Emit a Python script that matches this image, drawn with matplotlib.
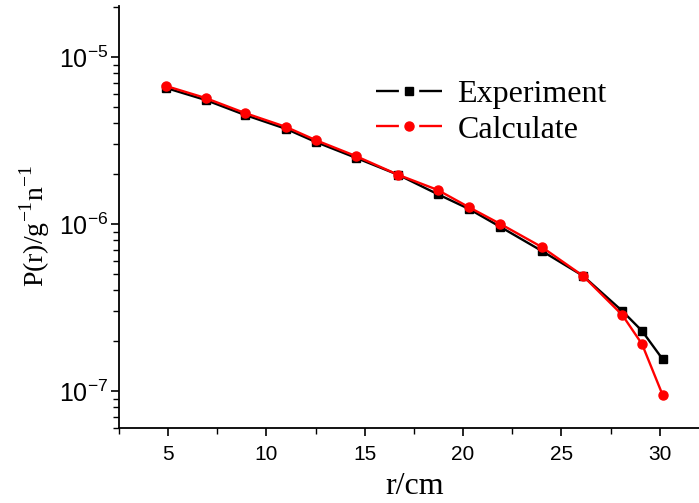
import matplotlib
matplotlib.use('Agg')
import matplotlib.pyplot as plt
from matplotlib.lines import Line2D
from matplotlib.ticker import MultipleLocator

# data
r_cm = [4.9, 6.9, 8.9, 11.0, 12.5, 14.55, 16.7, 18.7, 20.3, 21.9, 24.0, 26.1, 28.1, 29.1, 30.15]
experiment = [6.52e-6, 5.53e-6, 4.50e-6, 3.71e-6, 3.10e-6, 2.49e-6, 1.97e-6, 1.51e-6,
              1.23e-6, 9.6e-7, 6.9e-7, 4.89e-7, 3.01e-7, 2.29e-7, 1.55e-7]
calculate = [6.70e-6, 5.68e-6, 4.62e-6, 3.81e-6, 3.18e-6, 2.55e-6, 1.97e-6, 1.60e-6,
             1.26e-6, 1.00e-6, 7.28e-7, 4.89e-7, 2.85e-7, 1.91e-7, 9.46e-8]

plt.rcParams['font.family'] = ['Liberation Sans', 'DejaVu Sans']
plt.rcParams['axes.unicode_minus'] = False
serif = ['Liberation Serif', 'DejaVu Serif']

fig = plt.figure(figsize=(6.99, 5.03), dpi=100)
ax = fig.add_axes([119 / 699, 75 / 503, 580 / 699, 422 / 503])

ax.plot(r_cm, experiment, color='black', lw=1.7, marker='s', ms=6, zorder=2)
ax.plot(r_cm, calculate, color='red', lw=1.7, marker='o', ms=6.5, zorder=3)

ax.set_yscale('log')
ax.set_xlim(2.5, 32)
ax.set_ylim(6e-8, 2.02e-5)
ax.xaxis.set_major_locator(MultipleLocator(5))
ax.xaxis.set_minor_locator(MultipleLocator(2.5))

for side in ['top', 'right']:
    ax.spines[side].set_visible(False)
ax.spines['left'].set_linewidth(1.3)
ax.spines['bottom'].set_linewidth(1.3)
ax.tick_params(which='major', length=6, width=1.2)
ax.tick_params(which='minor', length=4, width=1.0)
ax.tick_params(axis='x', which='major', labelsize=15, pad=6)
ax.tick_params(axis='y', which='major', labelsize=18, pad=2)

ax.set_xlabel('r/cm', fontsize=23, family=serif)
ax.xaxis.set_label_coords(0.509, -0.105)
ax.set_ylabel(r'P(r)/g$^{\mathdefault{-1}}$n$^{\mathdefault{-1}}$', fontsize=20, family=serif)
ax.yaxis.set_label_coords(-0.116, 0.48)

# legend with gapped line around the marker
handles = [
    Line2D([], [], color='black', lw=1.7, ls=(0, (9.7, 8.6)), marker='s', ms=6),
    Line2D([], [], color='red', lw=1.7, ls=(0, (9.7, 8.6)), marker='o', ms=6.5),
]
leg = ax.legend(handles, ['Experiment', 'Calculate'], loc='upper left',
                bbox_to_anchor=(347 / 699, 1 - 51 / 503), bbox_transform=fig.transFigure,
                frameon=False, numpoints=1, handlelength=2.06, handletextpad=0.5,
                labelspacing=0.19, prop={'family': serif, 'size': 23})

fig.savefig('out.png', dpi=100)
